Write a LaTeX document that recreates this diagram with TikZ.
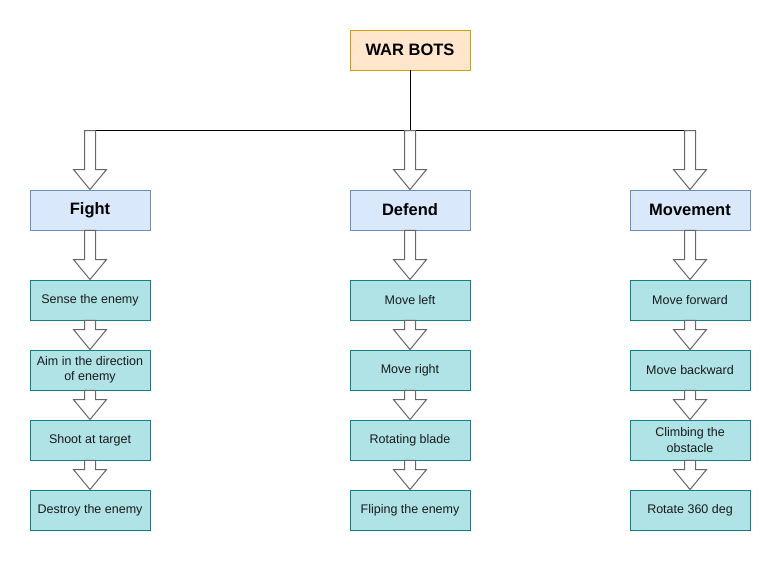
\documentclass[tikz,border=0pt]{standalone}
\usepackage{fontspec}
\setmainfont{Liberation Sans}
\usetikzlibrary{calc}
\definecolor{rootfill}{HTML}{FFE6CC}
\definecolor{rootdraw}{HTML}{D79B00}
\definecolor{catfill}{HTML}{DAE8FC}
\definecolor{catdraw}{HTML}{6C8EBF}
\definecolor{itemfill}{HTML}{B0E3E6}
\definecolor{itemdraw}{HTML}{0E8088}
\definecolor{arrowgray}{HTML}{666666}
\definecolor{txt}{HTML}{1A1A1A}
\tikzset{
  basebox/.style={rectangle, minimum width=120pt, minimum height=40pt, inner sep=2pt, line width=0.9pt, align=center},
  rootbox/.style={basebox, fill=rootfill, draw=rootdraw, font=\fontsize{16.5}{19}\selectfont\bfseries},
  catbox/.style={basebox, fill=catfill, draw=catdraw, font=\fontsize{16.5}{19}\selectfont\bfseries},
  itembox/.style={basebox, fill=itemfill, draw=itemdraw, text=txt, font=\fontsize{12.5}{15.5}\selectfont},
  harrow/.style={draw=arrowgray, fill=white, line width=1pt, line join=miter},
  busline/.style={draw=black, line width=1pt}
}
\newcommand\hollowarrow[2]{%
  \path[harrow] let \p1=(#1), \p2=(#2) in
    (\x1-5.5pt,\y1) -- (\x1-5.5pt,\y2+20pt) -- (\x1-16.5pt,\y2+20pt) -- (\x2,\y2)
    -- (\x1+16.5pt,\y2+20pt) -- (\x1+5.5pt,\y2+20pt) -- (\x1+5.5pt,\y1) -- cycle;}
\begin{document}
\begin{tikzpicture}[x=1pt,y=-1pt]
\useasboundingbox (0,0) rectangle (783,562);
\node[rootbox] (root) at (410,50) {WAR BOTS};
\coordinate (busL) at (90,130.5);
\coordinate (busC) at (410,130.5);
\coordinate (busR) at (690,130.5);

\node[catbox] (fight) at (90,210) {Fight};
\node[catbox] (defend) at (410,210) {Defend};
\node[catbox] (move) at (690,210) {Movement};

\node[itembox] (f1) at (90,300) {Sense the enemy};
\node[itembox] (f2) at (90,370) {Aim in the direction\\of enemy};
\node[itembox] (f3) at (90,440) {Shoot at target};
\node[itembox] (f4) at (90,510) {Destroy the enemy};

\node[itembox] (d1) at (410,300) {Move left};
\node[itembox] (d2) at (410,370) {Move right};
\node[itembox] (d3) at (410,440) {Rotating blade};
\node[itembox] (d4) at (410,510) {Fliping the enemy};

\node[itembox] (m1) at (690,300) {Move forward};
\node[itembox] (m2) at (690,370) {Move backward};
\node[itembox] (m3) at (690,440) {Climbing the\\obstacle};
\node[itembox] (m4) at (690,510) {Rotate 360 deg};

\draw[busline] (root.south) -- (busC);
\draw[busline] (busL) -- (busR);

\hollowarrow{busL}{fight.north}
\hollowarrow{busC}{defend.north}
\hollowarrow{busR}{move.north}

\hollowarrow{fight.south}{f1.north}
\hollowarrow{f1.south}{f2.north}
\hollowarrow{f2.south}{f3.north}
\hollowarrow{f3.south}{f4.north}

\hollowarrow{defend.south}{d1.north}
\hollowarrow{d1.south}{d2.north}
\hollowarrow{d2.south}{d3.north}
\hollowarrow{d3.south}{d4.north}

\hollowarrow{move.south}{m1.north}
\hollowarrow{m1.south}{m2.north}
\hollowarrow{m2.south}{m3.north}
\hollowarrow{m3.south}{m4.north}
\end{tikzpicture}
\end{document}
